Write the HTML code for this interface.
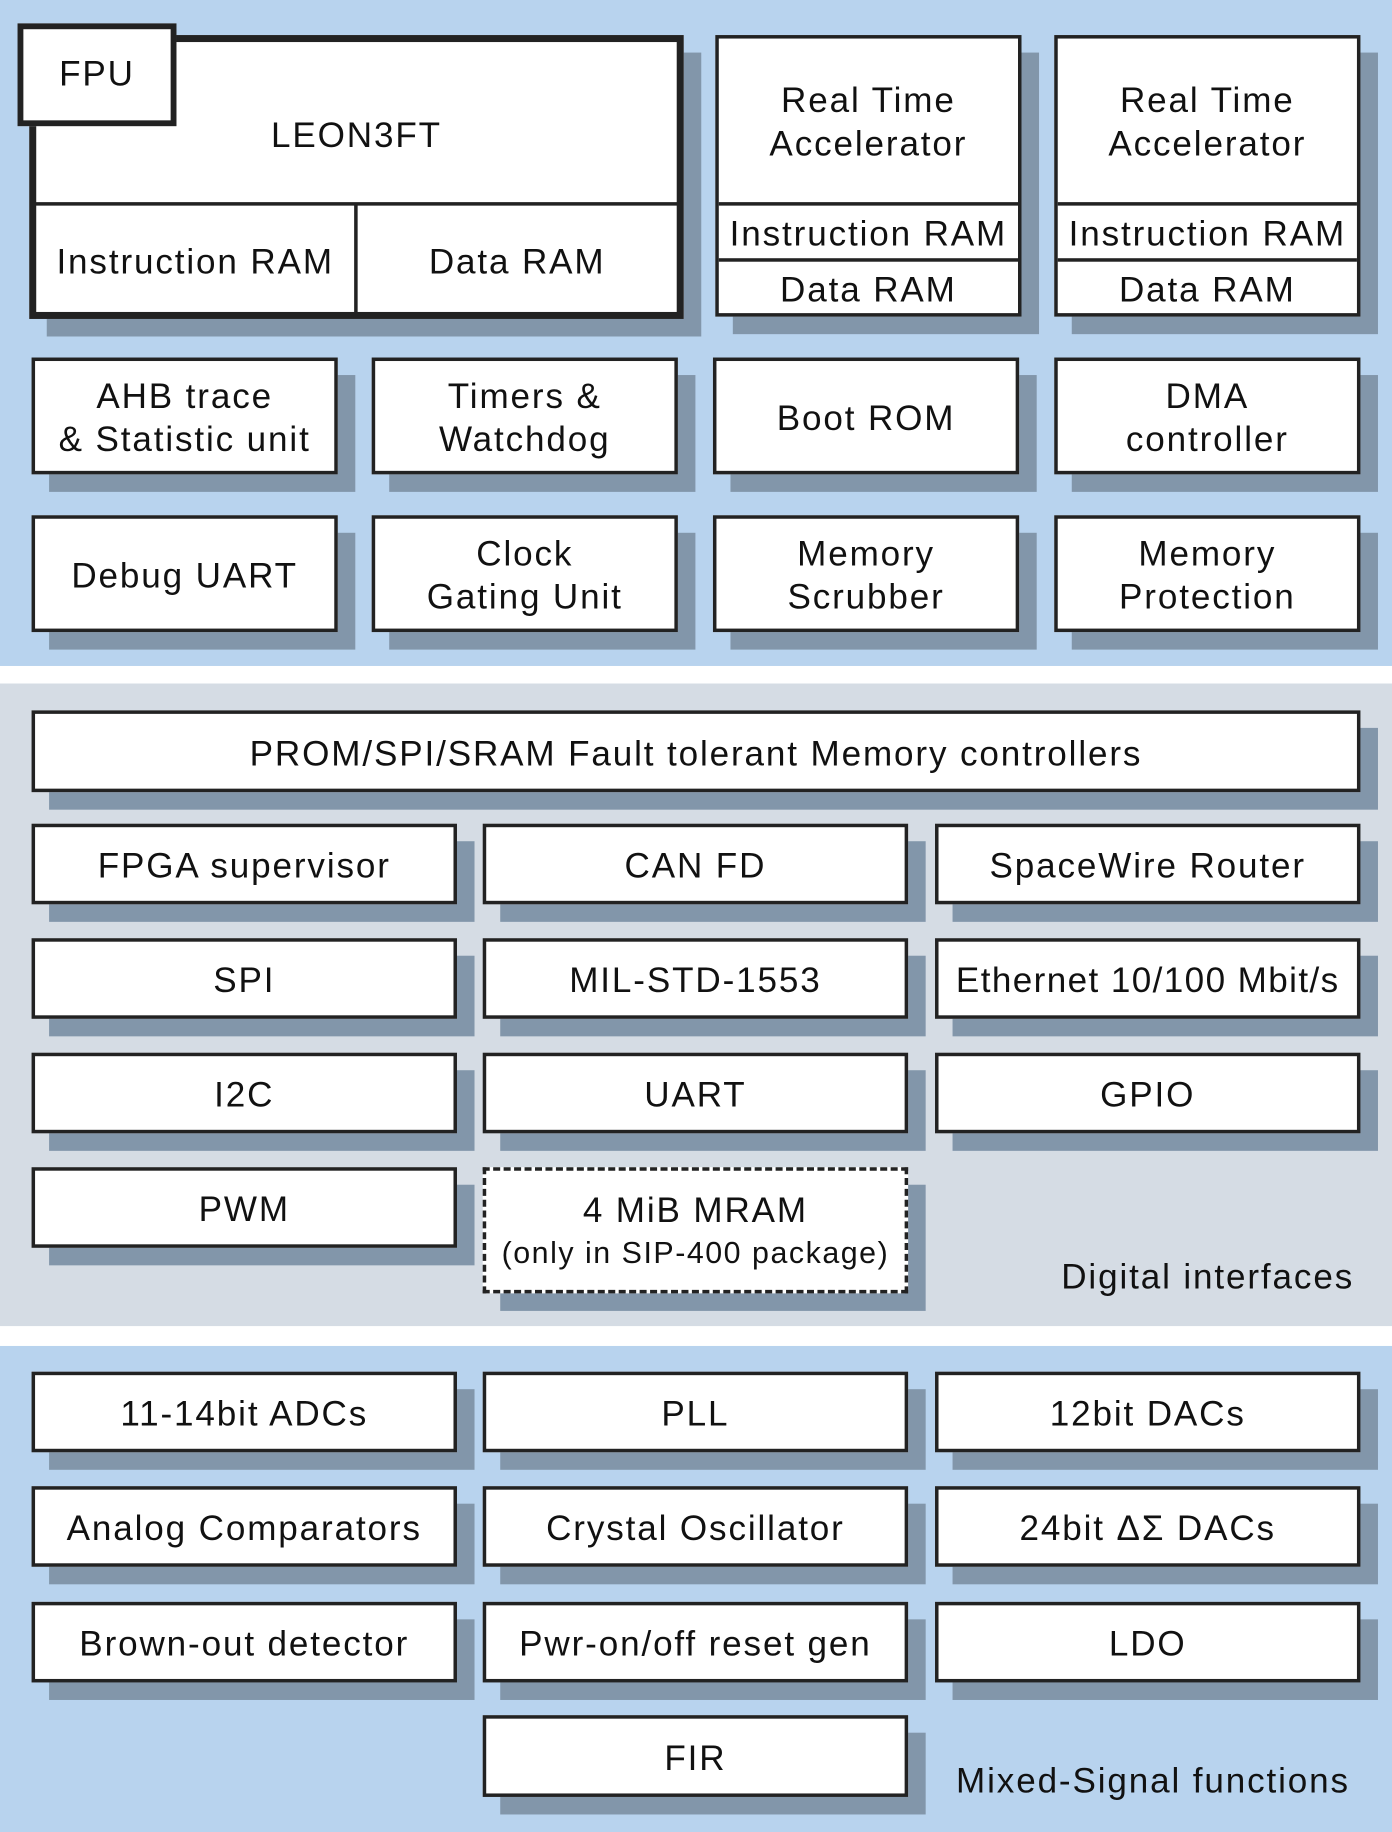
<!DOCTYPE html>
<html><head><meta charset="utf-8"><style>
html,body{margin:0;padding:0;background:#fff;width:1392px;height:1832px;overflow:hidden}
#w{position:absolute;left:0;top:0;width:1191px;height:1568px;transform:scale(1.16877,1.16837);transform-origin:0 0;font-family:"Liberation Sans",sans-serif;color:#111;letter-spacing:1.6px}
.s{position:absolute;left:0;width:1191px}
.b{position:absolute;box-sizing:border-box;border:3px solid #222;background:#fff;box-shadow:15px 15px 0 #8296aa;display:flex;align-items:center;justify-content:center;text-align:center;font-size:30px;line-height:37px;white-space:nowrap;padding-top:4px}
.n{box-shadow:none}
.t{position:absolute;font-size:30px;white-space:nowrap}
</style></head><body><div id="w">
<div class="s" style="top:0;height:570px;background:#b8d3ee"></div>
<div class="s" style="top:585px;height:550px;background:#d5dce4"></div>
<div class="s" style="top:1152px;height:416px;background:#b8d3ee"></div>

<div class="b" style="left:25px;top:30px;width:560px;height:243px;border-width:6px"></div>
<div class="b n" style="left:28px;top:33px;width:554px;height:143px;border:0;border-bottom:3px solid #222;background:transparent;padding-top:26px">LEON3FT</div>
<div class="b n" style="left:31px;top:174px;width:275px;height:96px;border:0;border-right:3px solid #222;background:transparent">Instruction RAM</div>
<div class="b n" style="left:306px;top:174px;width:273px;height:96px;border:0;background:transparent">Data RAM</div>
<div class="b n" style="left:15px;top:20px;width:136px;height:88px;border-width:5px;padding-top:0;padding-bottom:2px">FPU</div>

<div class="b" style="left:612px;top:30px;width:262px;height:241px"></div>
<div class="b n" style="left:615px;top:33px;width:256px;height:143px;border:0;border-bottom:3px solid #222;background:transparent">Real Time<br>Accelerator</div>
<div class="b n" style="left:615px;top:176px;width:256px;height:48px;border:0;border-bottom:3px solid #222;background:transparent">Instruction RAM</div>
<div class="b n" style="left:615px;top:224px;width:256px;height:44px;border:0;background:transparent">Data RAM</div>
<div class="b" style="left:902px;top:30px;width:262px;height:241px"></div>
<div class="b n" style="left:905px;top:33px;width:256px;height:143px;border:0;border-bottom:3px solid #222;background:transparent">Real Time<br>Accelerator</div>
<div class="b n" style="left:905px;top:176px;width:256px;height:48px;border:0;border-bottom:3px solid #222;background:transparent">Instruction RAM</div>
<div class="b n" style="left:905px;top:224px;width:256px;height:44px;border:0;background:transparent">Data RAM</div>

<div class="b" style="left:27px;top:306px;width:262px;height:100px">AHB trace<br>&amp; Statistic unit</div>
<div class="b" style="left:318px;top:306px;width:262px;height:100px">Timers &amp;<br>Watchdog</div>
<div class="b" style="left:610px;top:306px;width:262px;height:100px">Boot ROM</div>
<div class="b" style="left:902px;top:306px;width:262px;height:100px">DMA<br>controller</div>
<div class="b" style="left:27px;top:441px;width:262px;height:100px">Debug UART</div>
<div class="b" style="left:318px;top:441px;width:262px;height:100px">Clock<br>Gating Unit</div>
<div class="b" style="left:610px;top:441px;width:262px;height:100px">Memory<br>Scrubber</div>
<div class="b" style="left:902px;top:441px;width:262px;height:100px">Memory<br>Protection</div>

<div class="b" style="left:27px;top:608px;width:1137px;height:70px">PROM/SPI/SRAM Fault tolerant Memory controllers</div>
<div class="b" style="left:27px;top:705px;width:364px;height:69px">FPGA supervisor</div>
<div class="b" style="left:413px;top:705px;width:364px;height:69px">CAN FD</div>
<div class="b" style="left:800px;top:705px;width:364px;height:69px">SpaceWire Router</div>
<div class="b" style="left:27px;top:803px;width:364px;height:69px">SPI</div>
<div class="b" style="left:413px;top:803px;width:364px;height:69px">MIL-STD-1553</div>
<div class="b" style="left:800px;top:803px;width:364px;height:69px;letter-spacing:1.2px">Ethernet 10/100 Mbit/s</div>
<div class="b" style="left:27px;top:901px;width:364px;height:69px">I2C</div>
<div class="b" style="left:413px;top:901px;width:364px;height:69px">UART</div>
<div class="b" style="left:800px;top:901px;width:364px;height:69px">GPIO</div>
<div class="b" style="left:27px;top:999px;width:364px;height:69px">PWM</div>
<div class="b" style="left:413px;top:999px;width:364px;height:108px;border-style:dashed;flex-direction:column;padding-top:0"><span>4 MiB MRAM</span><span style="font-size:26px;line-height:34px;letter-spacing:1.3px">(only in SIP-400 package)</span></div>
<div class="t" style="left:908px;top:1077px">Digital interfaces</div>

<div class="b" style="left:27px;top:1174px;width:364px;height:69px">11-14bit ADCs</div>
<div class="b" style="left:413px;top:1174px;width:364px;height:69px">PLL</div>
<div class="b" style="left:800px;top:1174px;width:364px;height:69px">12bit DACs</div>
<div class="b" style="left:27px;top:1272px;width:364px;height:69px">Analog Comparators</div>
<div class="b" style="left:413px;top:1272px;width:364px;height:69px">Crystal Oscillator</div>
<div class="b" style="left:800px;top:1272px;width:364px;height:69px">24bit ΔΣ DACs</div>
<div class="b" style="left:27px;top:1371px;width:364px;height:69px">Brown-out detector</div>
<div class="b" style="left:413px;top:1371px;width:364px;height:69px">Pwr-on/off reset gen</div>
<div class="b" style="left:800px;top:1371px;width:364px;height:69px">LDO</div>
<div class="b" style="left:413px;top:1468px;width:364px;height:70px">FIR</div>
<div class="t" style="left:818px;top:1508px">Mixed-Signal functions</div>
</div></body></html>
